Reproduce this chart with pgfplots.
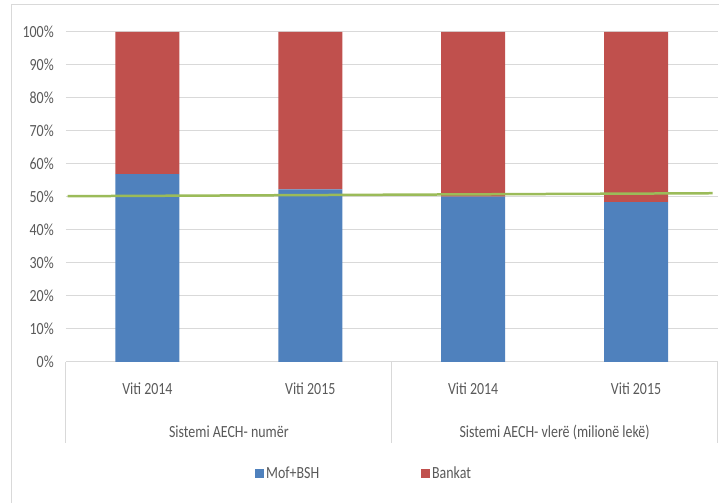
\documentclass[border=0pt]{standalone}
\usepackage{fontspec}
\setmainfont{Carlito}[FakeStretch=0.82]
\usepackage{pgfplots}
\pgfplotsset{compat=1.18}
\definecolor{sblue}{HTML}{4F81BD}
\definecolor{sred}{HTML}{C0504D}
\definecolor{sgreen}{HTML}{9BBB59}
\definecolor{textgray}{HTML}{595959}
\definecolor{gridgray}{HTML}{D9D9D9}
\newcommand\chartfont{\fontsize{17bp}{20bp}\selectfont}
\begin{document}
\begin{tikzpicture}
% page extent
\path (-66bp,-141bp) rectangle (653bp,362bp);
\draw[gridgray, line width=1bp] (-54bp,-141bp) -- (-54bp,357bp) -- (653bp,357bp);
\begin{axis}[
  name=ax,
  scale only axis, width=652bp, height=330bp,
  xmin=-0.5, xmax=3.5, ymin=0, ymax=100,
  ybar stacked, bar width=64bp,
  axis line style={draw=none},
  major tick length=0pt,
  ytick={0,10,...,100},
  yticklabel={\pgfmathprintnumber{\tick}\%},
  /pgf/number format/assume math mode=true,
  ymajorgrids, grid style={gridgray, line width=1bp},
  xtick={0,1,2,3},
  xticklabels={Viti 2014, Viti 2015, Viti 2014, Viti 2015},
  tick label style={font=\chartfont, text=textgray},
  yticklabel style={anchor=east, inner sep=0pt, xshift=-12bp},
  xticklabel style={anchor=base, inner sep=0pt, yshift=-33bp},
  clip=false,
  legend style={at={(axis description cs:0.290,-0.339)}, anchor=west,
    draw=none, fill=none, inner sep=0pt, font=\chartfont, text=textgray,
    legend columns=2,
    /tikz/every even column/.append style={column sep=100bp},
    nodes={inner xsep=2bp, inner ysep=0pt}},
  legend image code/.code={\fill[#1] (0bp,-4.5bp) rectangle (9bp,4.5bp);},
]
\addplot[fill=sblue, draw=none] coordinates {(0,56.9) (1,52.3) (2,50.1) (3,48.4)};
\addlegendentry{Mof+BSH}
\addplot[fill=sred, draw=none] coordinates {(0,43.1) (1,47.7) (2,49.9) (3,51.6)};
\addlegendentry{Bankat}
\draw[gridgray, line width=1bp] (axis cs:-0.5,0) -- ([yshift=-81bp]axis cs:-0.5,0);
\draw[gridgray, line width=1bp] (axis cs:1.5,0) -- ([yshift=-81bp]axis cs:1.5,0);
\draw[gridgray, line width=1bp] (axis cs:3.5,0) -- ([yshift=-81bp]axis cs:3.5,0);
\node[anchor=base, inner sep=0pt, font=\chartfont, text=textgray] at ([yshift=-76bp]axis cs:0.5,0) {Sistemi AECH- numër};
\node[anchor=base, inner sep=0pt, font=\chartfont, text=textgray] at ([yshift=-76bp]axis cs:2.5,0) {Sistemi AECH- vlerë (milionë lekë)};
\end{axis}
\begin{axis}[
  scale only axis, width=652bp, height=330bp,
  xmin=-0.5, xmax=3.5, ymin=0, ymax=100,
  hide axis, clip=false,
]
\addplot[sgreen, line width=2.5bp, no marks] coordinates {(-0.49,50.2) (3.47,51.1)};
\end{axis}
\end{tikzpicture}
\end{document}
